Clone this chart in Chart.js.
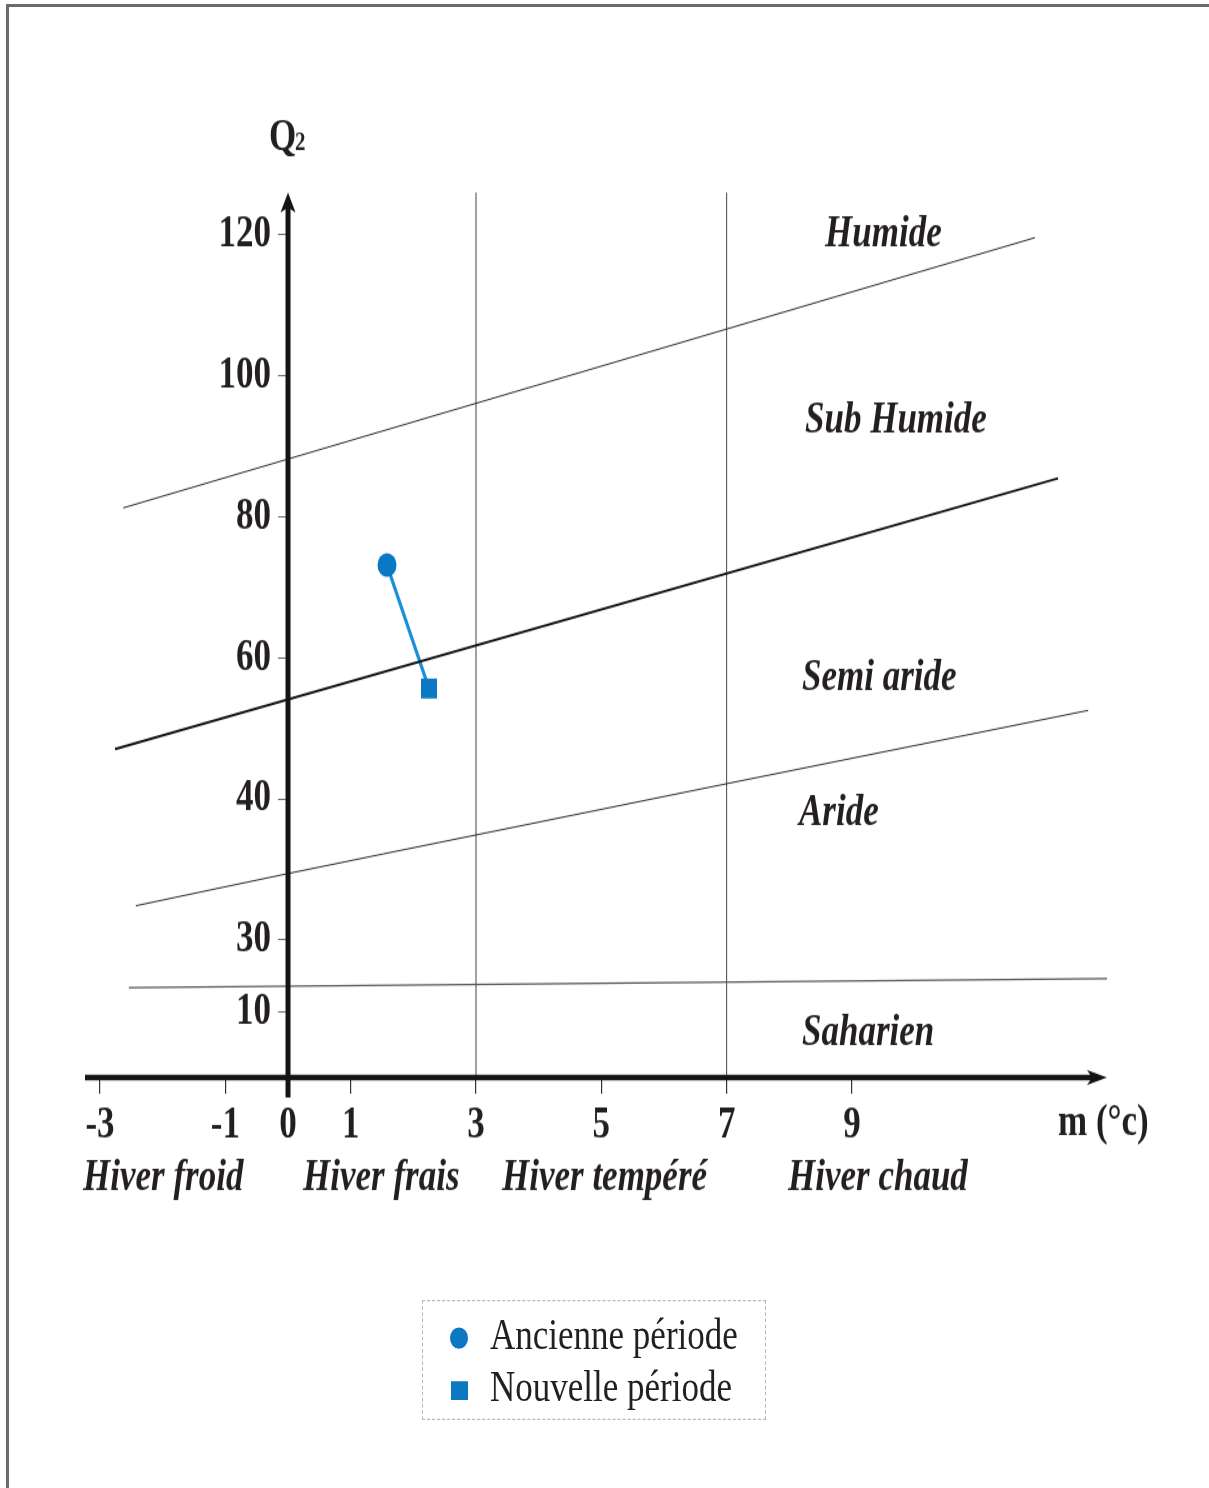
<!DOCTYPE html>
<html>
<head>
<meta charset="utf-8">
<title>Climagramme d'Emberger</title>
<script src="https://cdn.jsdelivr.net/npm/chart.js@4/dist/chart.umd.min.js"></script>
<style>
    html, body { margin: 0; padding: 0; background: #fff; }
    body { width: 1209px; height: 1488px; overflow: hidden; position: relative; }
    #frame {
        position: absolute; left: 6px; top: 4px; right: -10px; bottom: -10px;
        border-top: 3px solid #6a6a6a; border-left: 3px solid #6a6a6a;
    }
    /* the original figure is drawn a little taller than wide */
    #stage {
        position: absolute; left: 0; top: 0; width: 1209px; height: 1190px;
        transform: scaleY(1.25); transform-origin: 0 0;
    }
    #legend {
        position: absolute; left: 422px; top: 1040px; width: 344px; height: 96px;
        border: 1px dashed #b8b8b8; box-sizing: border-box;
        font-family: "Liberation Serif", serif; font-size: 35px; color: #231f20;
    }
    .item { position: absolute; left: 0; height: 40px; line-height: 40px; white-space: nowrap; }
    .item .mark { position: absolute; background: #0b78c4; }
    .item span { position: absolute; left: 67px; top: -2px; }
</style>
</head>
<body>
<div id="frame"></div>
<div id="stage">
    <canvas id="emberger" width="1209" height="1190"></canvas>
    <div id="legend"></div>
</div>
<script>
// axis graduations
const mTicks = [-3, -1, 0, 1, 3, 5, 7, 9];
const q2Ticks = [10, 30, 40, 60, 80, 100, 120];

// bioclimatic stages and winter variants
const zoneNames = ["Humide", "Sub Humide", "Semi aride", "Aride", "Saharien"];
const winterNames = ["Hiver froid", "Hiver frais", "Hiver tempéré", "Hiver chaud"];
const winterLimitsM = [3, 7];

// limits between stages (m in °C, Q2)
const limitHumideM = [-2.63, 11.92];
const limitHumideQ2 = [81.3, 119.6];
const limitSemiAridM = [-2.76, 12.29];
const limitSemiAridQ2 = [47.1, 85.5];
const limitAridM = [-2.43, 0, 3.05, 7.05, 12.77];
const limitAridQ2 = [32.4, 34.7, 37.5, 42.3, 52.6];
const limitSaharaM = [-2.54, 13.07];
const limitSaharaQ2 = [16.8, 19.3];

// station, old and new period
const periodNames = ["Ancienne période", "Nouvelle période"];
const periodM = [1.58, 2.25];
const periodQ2 = [73.2, 55.7];

// uneven Q2 graduation of the figure: spacing of each graduation from 0
const q2Breaks = [0, 10, 30, 40, 60, 80, 100, 120, 140];
const q2Spacing = [0, 65, 138, 278, 419, 560, 701, 842, 983];

const SERIF = '"Liberation Serif", "Times New Roman", serif';
const INK = "#231f20";

function interp(v, xs, ys) {
    for (let i = 1; i < xs.length; i++) {
        if (v <= xs[i] || i === xs.length - 1) {
            const t = (v - xs[i - 1]) / (xs[i] - xs[i - 1]);
            return ys[i - 1] + t * (ys[i] - ys[i - 1]);
        }
    }
    return ys[0];
}

function toPoints(xs, ys) {
    return xs.map((x, i) => ({ x: x, y: ys[i] }));
}

/**
 * Linear scale whose graduation follows the spacing of the Emberger Q2 axis.
 */
class Q2Scale extends Chart.LinearScale {
    static id = "q2";
    static defaults = {};

    getPixelForValue(value) {
        if (value === null || value === undefined || isNaN(value)) return NaN;
        const s0 = interp(this.min, q2Breaks, q2Spacing);
        const s1 = interp(this.max, q2Breaks, q2Spacing);
        const s = interp(value, q2Breaks, q2Spacing);
        return this.getPixelForDecimal((s - s0) / (s1 - s0));
    }

    getValueForPixel(pixel) {
        const s0 = interp(this.min, q2Breaks, q2Spacing);
        const s1 = interp(this.max, q2Breaks, q2Spacing);
        const s = s0 + this.getDecimalForPixel(pixel) * (s1 - s0);
        return interp(s, q2Spacing, q2Breaks);
    }

    // an axis placed at m = 0 puts its labels on the axis line: move them left of the ticks
    _computeLabelItems(chartArea) {
        const items = super._computeLabelItems(chartArea);
        const shift = this.options.grid.tickLength + this.options.ticks.padding;
        items.forEach((item) => { item.options.translation[0] -= shift; });
        return items;
    }
}
Chart.register(Q2Scale);

// axes with arrows, zone names and axis titles
const embergerDecor = {
    id: "embergerDecor",
    afterDatasetsDraw(chart) {
        const { ctx, chartArea, scales } = chart;
        const x0 = scales.x.getPixelForValue(0);
        const y0 = scales.y.getPixelForValue(0);
        ctx.save();
        ctx.strokeStyle = "#141414";
        ctx.fillStyle = "#141414";

        // m axis
        ctx.lineWidth = 4.6;
        ctx.beginPath();
        ctx.moveTo(chartArea.left, y0);
        ctx.lineTo(chartArea.right - 12, y0);
        ctx.stroke();
        ctx.beginPath();
        ctx.moveTo(chartArea.right, y0);
        ctx.lineTo(chartArea.right - 20, y0 - 6);
        ctx.lineTo(chartArea.right - 15, y0);
        ctx.lineTo(chartArea.right - 20, y0 + 6);
        ctx.closePath();
        ctx.fill();

        // Q2 axis
        ctx.lineWidth = 5;
        ctx.beginPath();
        ctx.moveTo(x0, y0 + 16);
        ctx.lineTo(x0, chartArea.top + 10);
        ctx.stroke();
        ctx.beginPath();
        ctx.moveTo(x0, chartArea.top);
        ctx.lineTo(x0 - 7.5, chartArea.top + 16);
        ctx.lineTo(x0, chartArea.top + 12);
        ctx.lineTo(x0 + 7.5, chartArea.top + 16);
        ctx.closePath();
        ctx.fill();

        ctx.fillStyle = INK;
        ctx.textBaseline = "alphabetic";
        ctx.textAlign = "left";

        // stage names
        const zoneAt = [[825, 197], [805, 346], [802, 552], [799, 660], [802, 836]];
        ctx.font = "italic 700 35px " + SERIF;
        zoneNames.forEach((name, i) => ctx.fillText(name, zoneAt[i][0], zoneAt[i][1]));

        // winter variants
        const winterAt = [83, 303, 502, 788];
        winterNames.forEach((name, i) => ctx.fillText(name, winterAt[i], 952));

        // axis titles
        ctx.font = "700 35px " + SERIF;
        ctx.fillText("Q", x0 - 19, 120);
        ctx.font = "700 21px " + SERIF;
        ctx.fillText("2", x0 + 7, 120);
        ctx.font = "700 35px " + SERIF;
        ctx.fillText("m (°c)", 1058, 908);
        ctx.restore();
    }
};

const ctx = document.getElementById("emberger");
const chart = new Chart(ctx, {
    type: "scatter",
    data: {
        datasets: [
            {
                label: "Humide / Sub humide",
                data: toPoints(limitHumideM, limitHumideQ2),
                showLine: true, borderColor: "#2a2a2a", borderWidth: 1, pointRadius: 0,
            },
            {
                label: "Sub humide / Semi aride",
                data: toPoints(limitSemiAridM, limitSemiAridQ2),
                showLine: true, borderColor: "#111", borderWidth: 2, pointRadius: 0,
            },
            {
                label: "Semi aride / Aride",
                data: toPoints(limitAridM, limitAridQ2),
                showLine: true, borderColor: "#2a2a2a", borderWidth: 1, pointRadius: 0,
                cubicInterpolationMode: "monotone",
            },
            {
                label: "Aride / Saharien",
                data: toPoints(limitSaharaM, limitSaharaQ2),
                showLine: true, borderColor: "#555", borderWidth: 1.2, pointRadius: 0,
            },
            ...winterLimitsM.map((m) => ({
                label: "m = " + m,
                data: [{ x: m, y: 0 }, { x: m, y: 126 }],
                showLine: true, borderColor: "#444", borderWidth: 1, pointRadius: 0,
            })),
            {
                label: "Station",
                data: toPoints(periodM, periodQ2),
                showLine: true,
                borderColor: "#1b8fd8",
                borderWidth: 3.2,
                pointStyle: ["circle", "rect"],
                pointRadius: [9.5, 11.3],
                pointBackgroundColor: "#0b78c4",
                pointBorderWidth: 0,
            },
        ],
    },
    options: {
        responsive: false,
        devicePixelRatio: 1,
        animation: false,
        events: [],
        layout: { padding: { left: 85, right: 102, top: 154, bottom: 328 } },
        plugins: { legend: { display: false }, tooltip: { enabled: false } },
        scales: {
            x: {
                type: "linear",
                position: { y: 0 },
                min: -3.24,
                max: 13.07,
                afterBuildTicks: (scale) => { scale.ticks = mTicks.map((v) => ({ value: v })); },
                border: { display: false },
                grid: { drawOnChartArea: false, drawTicks: true, tickLength: 13, color: "#333", lineWidth: 1.2 },
                ticks: {
                    padding: 5,
                    color: INK,
                    font: { family: SERIF, size: 35, weight: "bold" },
                    maxRotation: 0,
                    autoSkip: false,
                    callback: (v) => String(v),
                },
            },
            y: {
                type: "q2",
                position: { x: 0 },
                min: 0,
                max: 126,
                afterBuildTicks: (scale) => { scale.ticks = q2Ticks.map((v) => ({ value: v })); },
                border: { display: false },
                grid: { drawOnChartArea: false, drawTicks: true, tickLength: 10, color: "#666", lineWidth: 1 },
                ticks: {
                    padding: 7,
                    color: INK,
                    font: { family: SERIF, size: 35, weight: "bold" },
                    autoSkip: false,
                    callback: (v) => String(v),
                },
            },
        },
    },
    plugins: [embergerDecor],
});

// legend of the two periods, built from the station dataset
const station = chart.data.datasets[chart.data.datasets.length - 1];
const legendEl = document.getElementById("legend");
periodNames.forEach((name, i) => {
    const item = document.createElement("div");
    item.className = "item";
    item.style.top = (i === 0 ? 9 : 51) + "px";
    const mark = document.createElement("div");
    mark.className = "mark";
    if (station.pointStyle[i] === "circle") {
        Object.assign(mark.style, { left: "27px", top: "12px", width: "18px", height: "17px", borderRadius: "50%" });
    } else {
        Object.assign(mark.style, { left: "28px", top: "13px", width: "17px", height: "15px" });
    }
    mark.style.background = station.pointBackgroundColor;
    const text = document.createElement("span");
    text.textContent = name;
    item.appendChild(mark);
    item.appendChild(text);
    legendEl.appendChild(item);
});
</script>
</body>
</html>
